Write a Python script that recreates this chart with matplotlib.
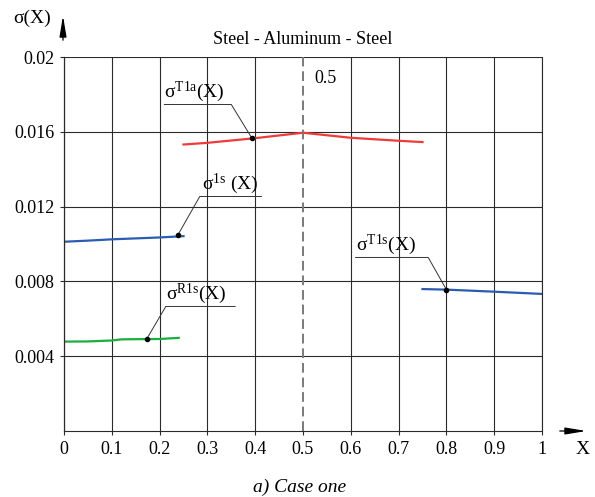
import numpy as np
import matplotlib
matplotlib.use("Agg")
import matplotlib.pyplot as plt

plt.rcParams['font.family'] = ['Liberation Serif', 'DejaVu Serif']
plt.rcParams['mathtext.fontset'] = 'custom'
plt.rcParams['mathtext.rm'] = 'Liberation Serif'
plt.rcParams['mathtext.it'] = 'Liberation Serif:italic'

# data
x_t1a = [0.25, 0.3, 0.4, 0.5, 0.6, 0.7, 0.75]
y_t1a = [0.01532, 0.01541, 0.01566, 0.01595, 0.01568, 0.01552, 0.01545]

x_1s = [0.0, 0.05, 0.1, 0.15, 0.2, 0.25]
y_1s = [0.01012, 0.01018, 0.01025, 0.01030, 0.01035, 0.01042]

x_r1s = [0.0, 0.05, 0.1, 0.12, 0.15, 0.2, 0.24]
y_r1s = [0.00478, 0.00479, 0.00484, 0.00490, 0.00491, 0.00492, 0.00498]

x_t1s = [0.75, 0.8, 0.9, 1.0]
y_t1s = [0.00759, 0.00756, 0.00745, 0.00733]

xticks = [0, 0.1, 0.2, 0.3, 0.4, 0.5, 0.6, 0.7, 0.8, 0.9, 1]
xlabels = ['0', '0.1', '0.2', '0.3', '0.4', '0.5', '0.6', '0.7', '0.8', '0.9', '1']
yticks = [0.004, 0.008, 0.012, 0.016, 0.02]
ylabels = ['0.004', '0.008', '0.012', '0.016', '0.02']

W, H = 595, 497
fig = plt.figure(figsize=(W / 100, H / 100), dpi=100)
ax = fig.add_axes([64 / W, 1 - 431 / H, 478 / W, 374 / H])
ax.set_xlim(0, 1)
ax.set_ylim(0, 0.02)

gc = '#2a2a2a'
ax.set_xticks(xticks)
ax.set_xticklabels(xlabels)
ax.set_yticks(yticks)
ax.set_yticklabels(ylabels)
ax.grid(True, axis='y', color=gc, linewidth=0.8)
# vertical grid, except at 0.5 where the dashed line is
for xv in xticks:
    if xv != 0.5:
        ax.axvline(xv, color=gc, linewidth=0.8, zorder=0.5)
ax.tick_params(axis='both', length=3, width=0.8, color=gc, labelsize=13, pad=4)
for s in ax.spines.values():
    s.set_color(gc)
    s.set_linewidth(0.8)
ax.spines['top'].set_visible(False)

ax.axvline(0.5, color='#7a7a7a', linestyle=(0, (5, 2.5)), linewidth=1.4, zorder=3)
ax.text(0.523, 0.0186, '0.5', fontsize=13)

ax.plot(x_t1a, y_t1a, color='#f03a3a', linewidth=1.6)
ax.plot(x_1s, y_1s, color='#2a5cb0', linewidth=1.6)
ax.plot(x_r1s, y_r1s, color='#1aae3e', linewidth=1.6)
ax.plot(x_t1s, y_t1s, color='#2a5cb0', linewidth=1.6)

# leader labels: marker point, elbow point, underline end, text
def label(px, py, ex, ey, ux, txt, tx):
    ax.plot([px], [py], 'o', color='black', markersize=3, zorder=4)
    ax.plot([px, ex, ux], [py, ey, ey], color='#333333', linewidth=0.7)
    ax.text(tx, ey + 0.00003, txt, fontsize=14, va='bottom')

label(0.393, 0.01566, 0.35, 0.01746, 0.21, r'σ$^{\mathrm{T1a}}$(X)', 0.21)
label(0.238, 0.01047, 0.284, 0.01254, 0.413, r'σ$^{\mathrm{1s}}$ (X)', 0.288)
label(0.173, 0.00492, 0.213, 0.00666, 0.358, r'σ$^{\mathrm{R1s}}$(X)', 0.213)
label(0.80, 0.00756, 0.762, 0.00928, 0.61, r'σ$^{\mathrm{T1s}}$(X)', 0.61)

# axis arrows
astyle = '-|>,head_length=0.9,head_width=0.15'
fig.add_artist(plt.Line2D([64 / W, 64 / W], [1 - 431 / H, 1 - 57 / H], color=gc, linewidth=0.8))
ax.annotate('', xy=(63 / W, 1 - 13 / H), xytext=(63 / W, 1 - 43 / H), xycoords='figure fraction',
            arrowprops=dict(arrowstyle=astyle, color='black', lw=0.9, mutation_scale=14))
ax.annotate('', xy=(589 / W, 1 - 431 / H), xytext=(557 / W, 1 - 431 / H), xycoords='figure fraction',
            arrowprops=dict(arrowstyle=astyle, color='black', lw=0.9, mutation_scale=14))
fig.text(13 / W, 1 - 18 / H, 'σ(X)', fontsize=14, va='center')
fig.text(583 / W, 1 - 450 / H, 'X', fontsize=14, ha='center', va='center')

fig.text(303 / W, 1 - 40 / H, 'Steel - Aluminum - Steel', fontsize=13, ha='center', va='center')
fig.text(300 / W, 1 - 487 / H, 'a) Case one', fontsize=14, ha='center', va='center', style='italic')

fig.savefig('out.png', dpi=100)
plt.close(fig)
